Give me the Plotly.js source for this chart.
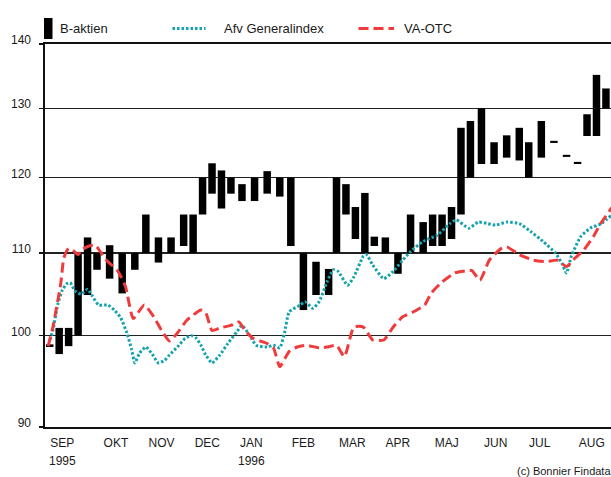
<!DOCTYPE html>
<html><head><meta charset="utf-8">
<script src="https://cdn.plot.ly/plotly-3.0.1.min.js"></script>
<style>html,body{margin:0;padding:0;background:#fff}#chart{width:611px;height:477px}</style>
</head><body><div id="chart"></div>
<script>
const barDates = ['1995-09-04','1995-09-10','1995-09-16','1995-09-22','1995-09-28','1995-10-04','1995-10-12','1995-10-20','1995-10-28','1995-11-04','1995-11-12','1995-11-20','1995-11-28','1995-12-04','1995-12-10','1995-12-16','1995-12-22','1995-12-28','1996-01-04','1996-01-12','1996-01-20','1996-01-28','1996-02-04','1996-02-12','1996-02-20','1996-02-28','1996-03-04','1996-03-10','1996-03-16','1996-03-22','1996-03-28','1996-04-04','1996-04-12','1996-04-20','1996-04-28','1996-05-04','1996-05-10','1996-05-16','1996-05-22','1996-05-28','1996-06-04','1996-06-12','1996-06-20','1996-06-28','1996-07-04','1996-07-12','1996-07-20','1996-07-28','1996-08-04','1996-08-10','1996-08-16','1996-08-22'];
const barLow  = [98.7,97.9,98.8,100,104.8,107.9,106.8,105,107.9,110,108.8,110,110.9,110,115,117.8,115.8,117.8,116.8,116.8,117.8,117.4,110.9,103,104.8,104.8,110,115,111.8,110,110.9,110,107.4,110,110,110.9,110.9,111.8,115,120,121.9,121.9,122.8,122.4,120,122.8,124.9,122.9,121.9,125.9,125.9,130];
const barHigh = [99.0,100.9,100.9,110,112,110,111,110,110,115,112,112,115,115,120,122,121,120,119.1,120,120.9,120,120,110,108.9,108,120,119.1,116,117.9,112.1,112,110,115,114,115,115,116,127.1,128.1,130,125,126,127.1,125,128.1,125.2,123.2,122.2,129.1,135.1,133];

const afvDates = ['1995-09-04','1995-09-06','1995-09-09','1995-09-12','1995-09-15','1995-09-17','1995-09-20','1995-09-24','1995-09-28','1995-10-01','1995-10-05','1995-10-11','1995-10-15','1995-10-19','1995-10-23','1995-10-26','1995-10-28','1995-10-31','1995-11-04','1995-11-08','1995-11-12','1995-11-16','1995-11-19','1995-11-24','1995-11-29','1995-12-03','1995-12-06','1995-12-09','1995-12-12','1995-12-16','1995-12-21','1995-12-26','1996-01-01','1996-01-04','1996-01-09','1996-01-13','1996-01-20','1996-01-24','1996-01-28','1996-01-31','1996-02-03','1996-02-10','1996-02-13','1996-02-18','1996-02-22','1996-02-27','1996-03-02','1996-03-05','1996-03-11','1996-03-15','1996-03-21','1996-03-23','1996-03-27','1996-04-03','1996-04-09','1996-04-15','1996-04-20','1996-04-28','1996-05-07','1996-05-15','1996-05-19','1996-05-27','1996-06-02','1996-06-08','1996-06-13','1996-06-20','1996-06-28','1996-07-05','1996-07-13','1996-07-21','1996-07-25','1996-07-28','1996-07-31','1996-08-06','1996-08-12','1996-08-19','1996-08-26'];
const afvValues = [99.5,100.6,103.6,105.4,106.2,106.3,105.3,104.9,105.5,104.7,103.6,103.6,103.0,102.1,100.3,98.4,96.9,98.0,98.7,97.9,96.9,97.2,97.8,98.7,99.7,100.0,99.7,98.9,97.8,96.9,97.8,99.1,100.5,101.2,100.0,98.9,98.7,98.9,98.6,100.3,102.8,103.6,104.0,103.2,104.0,106.4,107.9,107.7,106.0,107.0,109.6,109.8,108.5,106.8,107.7,109.1,110.2,111.5,112.3,113.8,114.3,113.2,114.0,113.8,113.6,114.0,113.8,112.8,111.5,110.0,108.7,107.5,109.6,112.1,113.2,113.8,115.0];

const otcDates = ['1995-09-03','1995-09-06','1995-09-11','1995-09-13','1995-09-16','1995-09-19','1995-09-22','1995-09-25','1995-09-29','1995-10-03','1995-10-06','1995-10-10','1995-10-17','1995-10-22','1995-10-27','1995-11-03','1995-11-09','1995-11-14','1995-11-19','1995-11-24','1995-11-30','1995-12-09','1995-12-12','1995-12-16','1995-12-21','1995-12-28','1996-01-02','1996-01-06','1996-01-11','1996-01-20','1996-01-24','1996-01-28','1996-02-03','1996-02-08','1996-02-14','1996-02-22','1996-02-27','1996-03-04','1996-03-09','1996-03-15','1996-03-21','1996-03-27','1996-04-03','1996-04-09','1996-04-15','1996-04-22','1996-04-29','1996-05-03','1996-05-10','1996-05-18','1996-05-26','1996-05-29','1996-06-03','1996-06-09','1996-06-16','1996-06-20','1996-06-28','1996-07-07','1996-07-15','1996-07-22','1996-07-28','1996-08-01','1996-08-08','1996-08-14','1996-08-18','1996-08-26'];
const otcValues = [98.8,101.0,106.2,109.4,110.6,110.3,109.8,110.5,110.9,111.0,110.2,109.1,107.8,105.9,102.0,103.6,102.2,100.6,99.4,100.3,101.8,103.0,102.7,100.6,100.9,101.2,101.6,100.6,99.7,99.1,98.6,96.5,98.2,98.7,98.9,98.6,98.7,98.9,97.6,101.0,101.0,99.5,99.5,101.0,102.2,102.8,103.6,105.0,106.4,107.5,107.8,107.8,106.6,109.1,110.5,110.8,109.8,109.1,108.9,109.1,108.3,109.1,110.4,112.1,113.6,116.0];

const monthStarts = ['1995-09-01','1995-10-01','1995-11-01','1995-12-01','1996-01-01','1996-02-01','1996-03-01','1996-04-01','1996-05-01','1996-06-01','1996-07-01','1996-08-01'];
const monthLabelDates = ['1995-09-12','1995-10-16','1995-11-14','1995-12-13','1996-01-10','1996-02-12','1996-03-14','1996-04-12','1996-05-13','1996-06-13','1996-07-11','1996-08-13'];
const monthLabels = ['SEP','OKT','NOV','DEC','JAN','FEB','MAR','APR','MAJ','JUN','JUL','AUG'];
const yearDates = ['1995-09-12','1996-01-10'];
const yearLabels = ['1995','1996'];
const yTicks = [90,100,110,120,130,140];
const seriesNames = ['B-aktien','Afv Generalindex','VA-OTC'];

const W = 611, H = 477, L = 45, R = 0, T = 44, B = 50;
const PW = W - L - R, PH = H - T - B;
const px = x => (x - L) / PW;
const py = y => (H - B - y) / PH;
const TEAL = '#14a3ae', RED = '#ef3b3b';
const xRange = ['1995-09-01', '1996-08-25 05:00'];
const DAY = 86400000;

const traces = [
  {type:'bar', name:seriesNames[0], x:barDates, base:barLow,
   y:barHigh.map((h,i)=>h-barLow[i]), width:barDates.map(()=>4.75*DAY),
   marker:{color:'#000', line:{width:0}}, hoverinfo:'skip'},
  {type:'scatter', mode:'lines', name:seriesNames[1], x:afvDates, y:afvValues,
   line:{color:TEAL, width:3, dash:'2.5px,2px', shape:'spline', smoothing:0.5}},
  {type:'scatter', mode:'lines', name:seriesNames[2], x:otcDates, y:otcValues,
   line:{color:RED, width:3, dash:'10px,5px', shape:'spline', smoothing:0.5}}
];

const legY = py(28.5);
const shapes = [
  {type:'rect', xref:'paper', yref:'paper', x0:px(44), x1:px(52.5), y0:py(39), y1:py(18), fillcolor:'#000', line:{width:0}},
  {type:'line', xref:'paper', yref:'paper', x0:px(172.5), x1:px(205.5), y0:legY, y1:legY, line:{color:TEAL, width:3, dash:'2.5px,2px'}},
  {type:'line', xref:'paper', yref:'paper', x0:px(358.5), x1:px(394), y0:legY, y1:legY, line:{color:RED, width:3, dash:'10px,5px'}}
];

const annotations = [
  {xref:'paper', yref:'paper', x:px(58), y:legY, xanchor:'left', yanchor:'middle', text:seriesNames[0], showarrow:false, font:{size:13}},
  {xref:'paper', yref:'paper', x:px(222), y:legY, xanchor:'left', yanchor:'middle', text:seriesNames[1], showarrow:false, font:{size:13}},
  {xref:'paper', yref:'paper', x:px(402), y:legY, xanchor:'left', yanchor:'middle', text:seriesNames[2], showarrow:false, font:{size:13}},
  {xref:'paper', yref:'paper', x:px(613), y:py(471), xanchor:'right', yanchor:'middle', text:'(c) Bonnier Findata', showarrow:false, font:{size:11}}
].concat(yearDates.map((d,i)=>({xref:'x', yref:'paper', x:d, y:py(461), xanchor:'center', yanchor:'middle', text:yearLabels[i], showarrow:false, font:{size:12}})));

const layout = {
  width:W, height:H, margin:{l:L, r:R, t:T, b:B, pad:0},
  paper_bgcolor:'#fff', plot_bgcolor:'#fff', showlegend:false,
  font:{family:'"Liberation Sans", Arial, sans-serif', size:12, color:'#1a1a1a'},
  barmode:'overlay',
  xaxis:{type:'date', range:xRange, tickmode:'array', tickvals:monthLabelDates, ticktext:monthLabels,
    ticks:'', showgrid:false, zeroline:false, showline:true, linecolor:'#111', linewidth:1.6, mirror:true,
    ticklabelstandoff:4, fixedrange:true},
  xaxis2:{type:'date', range:xRange, overlaying:'x', anchor:'y', side:'bottom', tickmode:'array', tickvals:monthStarts,
    showticklabels:false, ticks:'outside', ticklen:4, tickwidth:1.3, tickcolor:'#333',
    showgrid:true, gridcolor:'#4a4a4a', gridwidth:1.3, showline:false, zeroline:false},
  yaxis:{type:'log', range:[Math.log10(90), Math.log10(140)], tickmode:'array', tickvals:yTicks, ticktext:yTicks.map(String),
    ticks:'outside', ticklen:4, tickwidth:1.3, tickcolor:'#111', showgrid:true, gridcolor:'#222', gridwidth:1.3,
    showline:true, linecolor:'#111', linewidth:1.6, zeroline:false, ticklabelstandoff:6, ticklabelshift:-4},
  shapes:shapes, annotations:annotations
};

Plotly.newPlot('chart', traces, layout, {staticPlot:true, displayModeBar:false});
</script></body></html>
